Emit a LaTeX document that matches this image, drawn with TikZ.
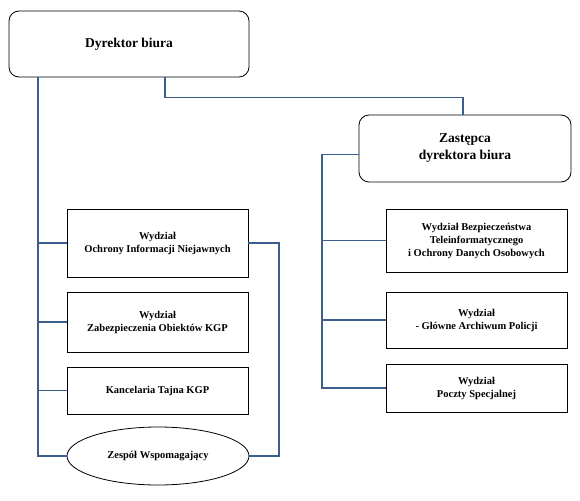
\documentclass[tikz,border=0pt]{standalone}
\usepackage{fontspec}
\setmainfont{Liberation Serif}
\usetikzlibrary{shapes.geometric}
\definecolor{linkblue}{RGB}{59,94,140}
\begin{document}
\begin{tikzpicture}[x=1pt, y=-1pt,
		boss/.style={draw, thick, rounded corners=10pt, align=center, font=\bfseries\fontsize{13.5}{17}\selectfont, inner sep=0pt},
		unit/.style={draw, thick, align=center, minimum width=181pt, font=\bfseries\fontsize{10.5}{13}\selectfont, inner sep=0pt},
		link/.style={draw=linkblue, line width=1.6pt}]
		\useasboundingbox (0,0) rectangle (580,500);
		\coordinate (LX) at (38, 0);
		\coordinate (RX) at (322, 0);
		\coordinate (BX) at (279, 0);
		
		\node [boss, minimum width=240pt, minimum height=66pt] (dyr) at (129, 44) {Dyrektor biura};
		\node [boss, minimum width=212pt, minimum height=67pt] (zas) at (465, 148.5) {Zastępca\\dyrektora biura};
		
		\node [unit, minimum height=68pt] (oin) at (157.5, 243) {Wydział\\Ochrony Informacji Niejawnych};
		\node [unit, minimum height=60pt] (zok) at (157.5, 322) {Wydział\\Zabezpieczenia Obiektów KGP};
		\node [unit, minimum height=47pt] (ktk) at (157.5, 390.5) {Kancelaria Tajna KGP};
		\node [unit, ellipse, minimum height=58pt, minimum width=182pt] (zw) at (158, 456) {Zespół Wspomagający};
		
		\node [unit, minimum height=63pt] (wbt) at (476.5, 240.5) {Wydział Bezpieczeństwa\\Teleinformatycznego\\i Ochrony Danych Osobowych};
		\node [unit, minimum height=56pt] (gap) at (476.5, 320) {Wydział\\- Główne Archiwum Policji};
		\node [unit, minimum height=48pt] (wps) at (476.5, 388) {Wydział\\Poczty Specjalnej};
		
		% left branch
		\draw [link] (dyr.south -| LX) -- (LX |- zw.west) -- (zw.west);
		\draw [link] (LX |- oin.west) -- (oin.west);
		\draw [link] (LX |- zok.west) -- (zok.west);
		\draw [link] (LX |- ktk.west) -- (ktk.west);
		\draw [link] (oin.east) -- (oin.east -| BX) -- (BX |- zw.east) -- (zw.east);
		
		% deputy
		\draw [link] ([xshift=36pt]dyr.south) -- ++(0, 20) -| ([xshift=-2pt]zas.north);
		\draw [link] ([yshift=-6pt]zas.west) -| (RX |- wps.west) -- (wps.west);
		\draw [link] (RX |- wbt.west) -- (wbt.west);
		\draw [link] (RX |- gap.west) -- (gap.west);
	\end{tikzpicture}
\end{document}
